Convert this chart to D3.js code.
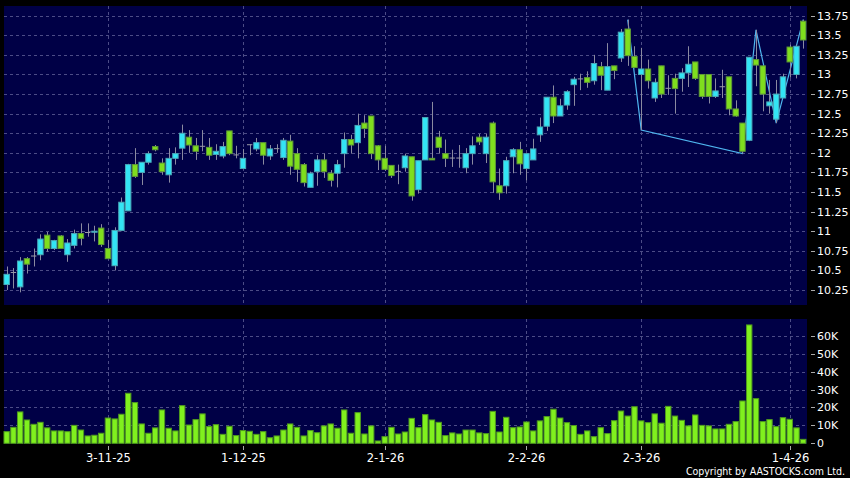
<!DOCTYPE html>
<html>
<head>
<meta charset="utf-8">
<script src="https://cdn.jsdelivr.net/npm/d3@7"></script>
<style>
  html, body { margin: 0; padding: 0; background: #000; }
  svg { display: block; }
  text { font-family: 'DejaVu Sans', sans-serif; fill: #fff; }
</style>
</head>
<body>
<div id="chart"></div>
<script>
'use strict';

// daily OHLC, oldest first (119 sessions)
var open = [10.32,10.48,10.29,10.65,10.69,10.70,10.95,10.78,10.94,10.70,
  10.82,10.97,10.99,10.99,11.04,10.78,10.56,11.01,11.26,11.85,
  11.75,11.88,12.08,11.87,11.72,11.93,12.06,12.20,12.09,12.09,
  12.07,11.98,11.96,12.28,11.98,11.80,12.11,12.05,12.13,11.96,
  12.06,11.94,12.15,11.99,11.85,11.56,11.76,11.91,11.74,11.74,
  11.99,12.17,12.13,12.38,12.47,12.09,11.93,11.84,11.77,11.81,
  11.95,11.53,11.91,11.93,12.20,11.99,11.94,11.94,11.81,11.99,
  12.20,11.99,12.38,11.58,11.58,11.95,12.04,11.80,11.91,12.23,
  12.34,12.71,12.47,12.61,12.87,12.95,12.96,12.92,13.10,12.80,
  13.11,13.21,13.58,13.23,13.00,13.07,12.70,13.11,12.83,12.95,
  12.95,13.02,13.16,13.00,13.00,12.72,12.85,12.97,12.56,12.38,
  12.16,13.19,13.11,12.60,12.43,12.70,13.35,13.00,13.68];
var high = [10.55,10.53,10.67,10.67,10.78,10.96,10.99,10.89,10.95,10.90,
  11.02,11.10,11.10,11.07,11.09,10.89,11.05,11.43,11.86,12.06,
  11.88,12.02,12.10,11.93,12.06,12.07,12.36,12.29,12.19,12.29,
  12.19,12.11,12.14,12.28,12.09,12.05,12.11,12.19,12.13,12.10,
  12.11,12.19,12.23,12.06,11.87,11.76,11.97,11.99,11.78,11.91,
  12.26,12.23,12.50,12.48,12.47,12.10,12.09,11.84,11.85,11.99,
  11.95,11.90,12.45,12.65,12.28,12.17,12.04,12.10,12.06,12.21,
  12.24,12.24,12.40,11.80,11.95,12.06,12.14,11.99,12.18,12.45,
  12.71,12.86,12.69,12.80,12.97,13.01,13.04,13.25,13.16,13.40,
  13.11,13.58,13.70,13.36,13.34,13.19,12.95,13.11,12.99,13.01,
  13.08,13.36,13.16,13.00,13.00,12.95,13.06,12.97,12.67,12.38,
  13.22,13.57,13.11,12.93,12.93,13.01,13.38,13.38,13.70];
var low = [10.25,10.27,10.22,10.46,10.55,10.63,10.74,10.76,10.78,10.61,
  10.78,10.82,10.93,10.87,10.80,10.65,10.50,11.00,11.26,11.68,
  11.59,11.85,12.02,11.72,11.62,11.85,11.91,12.00,11.91,12.02,
  11.91,11.91,11.93,11.97,11.93,11.80,11.97,12.02,11.85,11.91,
  12.00,11.91,11.72,11.63,11.57,11.56,11.58,11.68,11.57,11.56,
  11.81,11.99,11.93,12.19,11.92,11.78,11.77,11.68,11.60,11.76,
  11.39,11.48,11.91,11.91,11.99,11.82,11.82,11.81,11.74,11.85,
  12.10,11.87,11.49,11.40,11.48,11.74,11.72,11.65,11.91,12.14,
  12.28,12.38,12.47,12.55,12.60,12.80,12.83,12.87,12.80,12.80,
  12.94,13.16,13.11,13.08,12.29,12.82,12.65,12.70,12.74,12.50,
  12.78,12.84,12.93,12.69,12.63,12.70,12.70,12.48,12.46,11.99,
  12.15,12.85,12.53,12.50,12.38,12.70,12.96,12.95,13.33];
var close = [10.45,10.48,10.62,10.58,10.69,10.90,10.78,10.88,10.78,10.85,
  10.97,10.91,10.99,11.00,10.83,10.65,11.01,11.37,11.85,11.70,
  11.88,11.99,12.04,11.76,11.93,11.99,12.25,12.10,12.02,12.09,
  11.97,12.02,12.08,11.99,11.98,11.93,12.11,12.13,11.97,12.05,
  12.06,12.16,11.83,11.79,11.62,11.74,11.91,11.76,11.65,11.85,
  12.17,12.10,12.35,12.31,11.99,11.91,11.79,11.71,11.77,11.96,
  11.45,11.90,12.45,11.91,12.07,11.93,11.94,11.94,11.99,12.09,
  12.14,12.20,11.63,11.49,11.90,12.04,11.86,11.99,12.05,12.33,
  12.71,12.47,12.60,12.78,12.94,12.95,12.90,13.14,12.99,13.10,
  13.05,13.54,13.24,13.09,13.07,12.92,12.90,12.75,12.83,12.82,
  13.02,13.13,12.95,12.72,12.72,12.79,12.85,12.56,12.47,12.02,
  13.22,13.12,12.75,12.65,12.75,12.97,13.16,13.36,13.44];
// volume, thousands of shares
var volume = [6.5,8.9,17.5,13.0,10.6,11.7,8.6,6.9,6.9,6.5,
  10.0,7.4,4.1,4.5,5.6,14.1,13.6,16.2,27.9,22.7,
  10.8,5.6,8.6,18.6,8.4,6.9,21.0,10.2,13.2,16.4,
  9.3,10.4,5.0,9.5,4.3,7.1,6.7,5.0,6.5,3.1,
  4.1,7.4,10.8,8.9,4.1,7.1,5.9,9.7,10.8,8.4,
  18.6,5.6,17.1,5.2,9.7,1.3,3.7,8.9,5.2,6.3,
  13.9,8.7,16.0,13.0,11.7,4.3,5.8,5.2,7.4,7.4,
  5.8,5.4,17.8,6.3,14.5,8.7,9.1,11.9,6.9,12.5,
  14.9,19.0,14.1,11.5,9.9,5.0,6.9,3.7,8.7,5.4,
  12.6,18.0,15.2,20.4,12.5,11.5,16.4,11.2,20.6,15.2,
  12.8,9.7,15.8,10.0,9.7,8.0,8.0,10.6,12.1,23.6,
  66.0,24.9,12.1,13.2,9.3,14.3,13.4,8.6,2.2];

// swing line (session index, price)
var swingIdx = [92, 94, 109, 111, 114, 118];
var swingVal = [13.70, 12.29, 11.99, 13.57, 12.38, 13.70];

var dateIdx = [15, 35, 56, 77, 94, 116];
var dateLabels = ['3-11-25', '1-12-25', '2-1-26', '2-2-26', '2-3-26', '1-4-26'];
var priceTicks = [10.25, 10.5, 10.75, 11, 11.25, 11.5, 11.75, 12, 12.25, 12.5, 12.75, 13, 13.25, 13.5, 13.75];
var volTicks = [0, 10, 20, 30, 40, 50, 60];

var W = 850, H = 478;
var plotL = 4, plotR = 807;
var priceTop = 6, priceBot = 305;
var volTop = 319, volBot = 443.5;

var svg = d3.select('#chart').append('svg')
  .attr('width', W)
  .attr('height', H);

svg.append('rect').attr('width', W).attr('height', H).attr('fill', '#000');

var x = d3.scaleBand()
  .domain(d3.range(close.length))
  .range([3.3, 806.6])
  .paddingInner(0.2)
  .paddingOuter(0.1);

var cx = function(i) { return x(i) + x.bandwidth() / 2; };

var y = d3.scaleLinear()
  .domain([10.25, 13.75])
  .range([290, 15.7]);

var yv = d3.scaleLinear()
  .domain([0, 60])
  .range([443.3, 335.7]);

// panels
svg.append('rect')
  .attr('x', plotL).attr('y', priceTop)
  .attr('width', plotR - plotL).attr('height', priceBot - priceTop)
  .attr('fill', '#000046');
svg.append('rect')
  .attr('x', plotL).attr('y', volTop)
  .attr('width', plotR - plotL).attr('height', volBot - volTop)
  .attr('fill', '#000046');

var gridColor = '#4c4c86';

// horizontal grid
svg.append('g').selectAll('line')
  .data(priceTicks)
  .enter().append('line')
  .attr('x1', plotL).attr('x2', plotR)
  .attr('y1', function(d) { return Math.round(y(d)) + 0.5; })
  .attr('y2', function(d) { return Math.round(y(d)) + 0.5; })
  .attr('stroke', gridColor)
  .attr('stroke-dasharray', '3,3');

svg.append('g').selectAll('line')
  .data(volTicks.slice(1))
  .enter().append('line')
  .attr('x1', plotL).attr('x2', plotR)
  .attr('y1', function(d) { return Math.round(yv(d)) + 0.5; })
  .attr('y2', function(d) { return Math.round(yv(d)) + 0.5; })
  .attr('stroke', gridColor)
  .attr('stroke-dasharray', '3,3');

// vertical grid at date ticks
[[priceTop, priceBot], [volTop, volBot]].forEach(function(p) {
  svg.append('g').selectAll('line')
    .data(dateIdx)
    .enter().append('line')
    .attr('x1', function(d) { return Math.round(cx(d)) + 0.5; })
    .attr('x2', function(d) { return Math.round(cx(d)) + 0.5; })
    .attr('y1', p[0]).attr('y2', p[1])
    .attr('stroke', gridColor)
    .attr('stroke-dasharray', '3,3');
});

// swing line (under candles)
svg.append('path')
  .datum(swingIdx.map(function(d, k) { return [cx(d), y(swingVal[k])]; }))
  .attr('fill', 'none')
  .attr('stroke', '#4fb6f0')
  .attr('stroke-width', 1.2)
  .attr('d', d3.line());

// candles
var candles = svg.append('g').selectAll('g')
  .data(d3.range(close.length))
  .enter().append('g');

candles.append('line')
  .attr('x1', function(i) { return Math.round(cx(i)) + 0.5; })
  .attr('x2', function(i) { return Math.round(cx(i)) + 0.5; })
  .attr('y1', function(i) { return y(high[i]); })
  .attr('y2', function(i) { return y(low[i]); })
  .attr('stroke', '#8a8aa0')
  .attr('stroke-width', 1);

candles.append('rect')
  .attr('x', function(i) { return x(i); })
  .attr('width', x.bandwidth())
  .attr('y', function(i) { return y(Math.max(open[i], close[i])); })
  .attr('height', function(i) { return Math.max(1, Math.abs(y(open[i]) - y(close[i]))); })
  .attr('fill', function(i) {
    if (close[i] === open[i]) return '#9a9aa8';
    return close[i] > open[i] ? '#33e4f4' : '#7fde1e';
  })
  .attr('stroke', function(i) {
    if (close[i] === open[i]) return '#9a9aa8';
    return close[i] > open[i] ? '#4aa8b8' : '#5f9a36';
  })
  .attr('stroke-width', function(i) { return close[i] === open[i] ? 0 : 1; });

// volume bars
svg.append('g').selectAll('rect')
  .data(volume)
  .enter().append('rect')
  .attr('x', function(d, i) { return x(i); })
  .attr('width', x.bandwidth())
  .attr('y', function(d) { return yv(d); })
  .attr('height', function(d) { return yv(0) - yv(d); })
  .attr('fill', '#80f01e')
  .attr('stroke', '#4f9a1e')
  .attr('stroke-width', 1);

// right axes
var axisG = svg.append('g');
priceTicks.forEach(function(d) {
  var yy = Math.round(y(d)) + 0.5;
  axisG.append('line').attr('x1', 811).attr('x2', 815).attr('y1', yy).attr('y2', yy).attr('stroke', '#aaa');
  axisG.append('text').attr('x', 817).attr('y', yy).attr('dy', '0.36em')
    .style('font-size', '11px').text(d3.format('~g')(d));
});
volTicks.forEach(function(d) {
  var yy = Math.round(yv(d)) + 0.5;
  axisG.append('line').attr('x1', 811).attr('x2', 815).attr('y1', yy).attr('y2', yy).attr('stroke', '#aaa');
  axisG.append('text').attr('x', 817).attr('y', yy).attr('dy', '0.36em')
    .style('font-size', '11px').text(d === 0 ? '0' : d + 'K');
});

// date axis
dateIdx.forEach(function(d, k) {
  var xx = Math.round(cx(d)) + 0.5;
  axisG.append('line').attr('x1', xx).attr('x2', xx).attr('y1', 446).attr('y2', 450).attr('stroke', '#aaa');
  axisG.append('text').attr('x', xx).attr('y', 462)
    .attr('text-anchor', 'middle')
    .style('font-size', '11.5px').text(dateLabels[k]);
});

svg.append('text')
  .attr('x', 845).attr('y', 475)
  .attr('text-anchor', 'end')
  .style('font-size', '10.5px')
  .style('font-family', "'DejaVu Sans Condensed', 'DejaVu Sans', sans-serif")
  .text('Copyright by AASTOCKS.com Ltd.');
</script>
</body>
</html>
